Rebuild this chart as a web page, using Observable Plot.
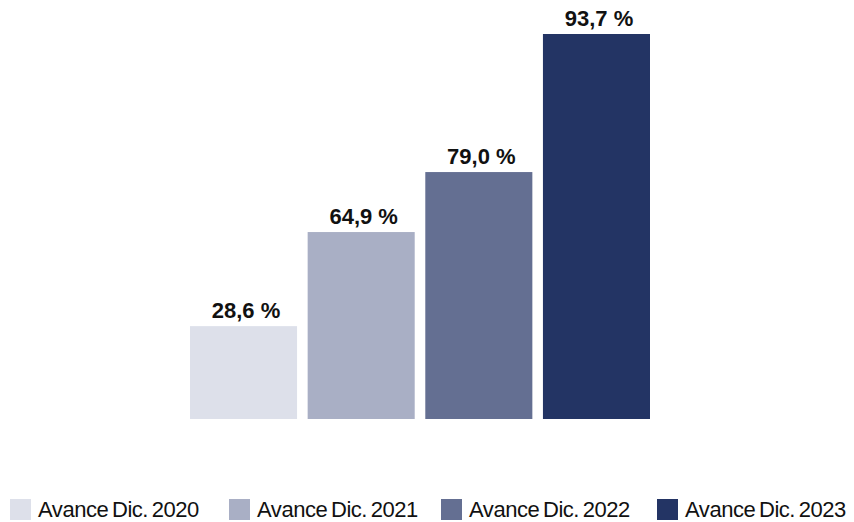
<!DOCTYPE html>
<html>
<head>
<meta charset="utf-8">
<script src="https://cdn.jsdelivr.net/npm/d3@7"></script>
<script src="https://cdn.jsdelivr.net/npm/@observablehq/plot@0.6"></script>
<style>
  html, body { margin: 0; padding: 0; background: #fff; overflow: hidden; }
  body { width: 854px; height: 522px; font-family: "Liberation Sans", Arial, sans-serif; }
  #chart svg { display: block; }
  .legend { display: flex; align-items: flex-start; margin-top: 1px; padding-left: 10px; height: 21px; }
  .legend .item { display: flex; align-items: flex-start; flex: none; }
  .legend .item:nth-child(1) { width: 219px; }
  .legend .item:nth-child(2) { width: 212px; }
  .legend .item:nth-child(3) { width: 216px; }
  .legend .sw { width: 21px; height: 21px; margin-right: 7px; flex: none; }
  .legend .lab { font-size: 22px; line-height: 21px; color: #111; white-space: nowrap; letter-spacing: -0.45px; word-spacing: -2px; }
</style>
</head>
<body>
<div id="chart"></div>
<script>
// Categories (legend labels)
const categories = ["Avance Dic. 2020", "Avance Dic. 2021", "Avance Dic. 2022", "Avance Dic. 2023"];
// Printed values (labels above the bars)
const values = [28.6, 64.9, 79.0, 93.7];
// Bar heights as drawn in the picture (not proportional to labels), in the same % units as the tallest bar
const drawnHeights = [22.6, 45.5, 60.1, 93.7];
// Colours
const colors = ["#dde0ea", "#a9afc5", "#646f92", "#233464"];

const data = categories.map((c, i) => ({
  cat: c,
  value: values[i],
  h: drawnHeights[i],
  label: values[i].toFixed(1).replace(".", ",") + " %"
}));

const plot = Plot.plot({
  width: 854,
  height: 498,
  marginLeft: 190,
  marginRight: 204,
  marginTop: 34,
  marginBottom: 79,
  x: { domain: categories, paddingInner: 0.09, paddingOuter: 0, round: false, axis: null },
  y: { domain: [0, 93.7], axis: null },
  color: { domain: categories, range: colors },
  marks: [
    Plot.barY(data, { x: "cat", y: "h", fill: "cat" }),
    Plot.text(data, {
      x: "cat", y: "h", text: "label",
      lineAnchor: "bottom", dy: -9, dx: 2,
      fontSize: 22, fontWeight: "bold", fill: "#111",
      fontFamily: "Liberation Sans, Arial, sans-serif"
    })
  ]
});
document.getElementById("chart").appendChild(plot);

const legend = document.createElement("div");
legend.className = "legend";
categories.forEach((c, i) => {
  const item = document.createElement("div");
  item.className = "item";
  const sw = document.createElement("span");
  sw.className = "sw";
  sw.style.background = colors[i];
  const lab = document.createElement("span");
  lab.className = "lab";
  lab.textContent = c;
  item.appendChild(sw);
  item.appendChild(lab);
  legend.appendChild(item);
});
document.getElementById("chart").appendChild(legend);
</script>
</body>
</html>
